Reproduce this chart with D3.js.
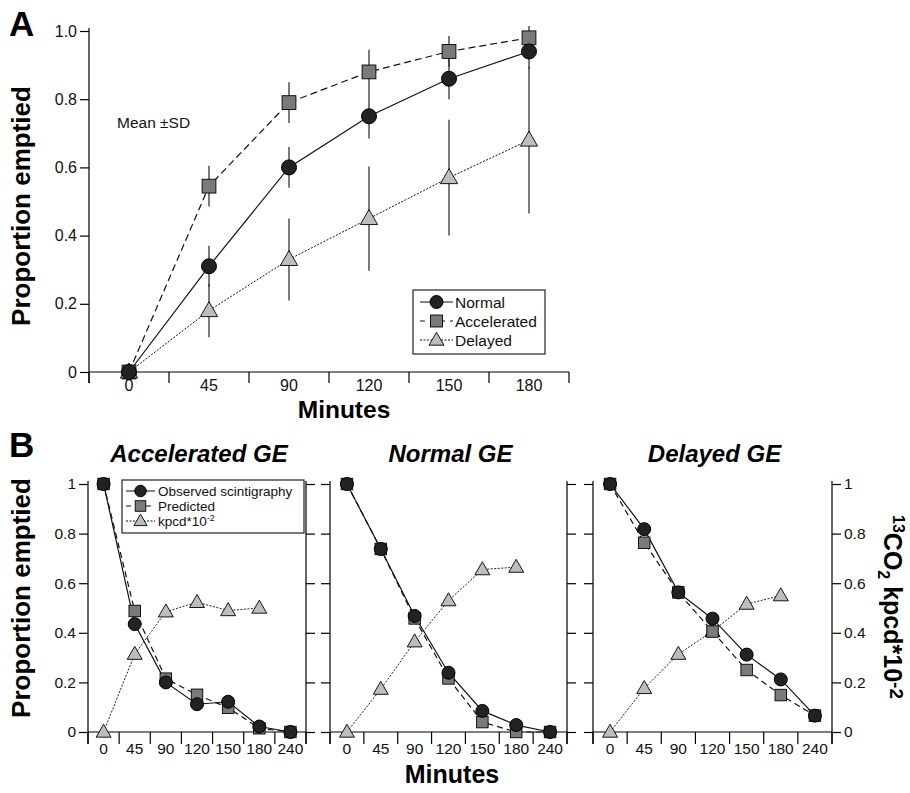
<!DOCTYPE html>
<html>
<head>
<meta charset="utf-8">
<script src="https://cdn.jsdelivr.net/npm/d3@7"></script>
<style>
  body { margin: 0; background: #fff; }
  svg { font-family: "Liberation Sans", Arial, Helvetica, sans-serif; }
</style>
</head>
<body>
<div id="chart"></div>
<script>
// ---- panel A data (mean +- SD, proportion emptied) ----
const aMinutes = ['0', '45', '90', '120', '150', '180']
const aNormal = [0, 0.31, 0.60, 0.75, 0.86, 0.94]
const aNormalSD = [0, 0.06, 0.06, 0.065, 0.06, 0.05]
const aAccelerated = [0, 0.545, 0.79, 0.88, 0.94, 0.98]
const aAcceleratedSD = [0, 0.06, 0.06, 0.065, 0.045, 0.035]
const aDelayed = [0, 0.18, 0.33, 0.45, 0.57, 0.68]
const aDelayedSD = [0, 0.078, 0.12, 0.153, 0.17, 0.215]
const aYTicks = [0, 0.2, 0.4, 0.6, 0.8, 1.0]
const aYLabels = ['0', '0.2', '0.4', '0.6', '0.8', '1.0']

// ---- panel B data ----
const bMinutes = ['0', '45', '90', '120', '150', '180', '240']
const bTitles = ['Accelerated GE', 'Normal GE', 'Delayed GE']
const accObserved = [1, 0.435, 0.20, 0.112, 0.122, 0.022, 0]
const accPredicted = [1, 0.488, 0.215, 0.15, 0.098, 0.015, 0]
const accKpcd = [0, 0.314, 0.485, 0.523, 0.49, 0.50]
const normObserved = [1, 0.738, 0.468, 0.239, 0.085, 0.028, 0]
const normPredicted = [1, 0.738, 0.458, 0.216, 0.04, 0.0, 0]
const normKpcd = [0, 0.173, 0.364, 0.53, 0.655, 0.665]
const delObserved = [1, 0.818, 0.563, 0.457, 0.312, 0.212, 0.066]
const delPredicted = [1, 0.763, 0.563, 0.405, 0.25, 0.149, 0.066]
const delKpcd = [0, 0.176, 0.314, 0.406, 0.516, 0.55]
const bYTicks = [0, 0.2, 0.4, 0.6, 0.8, 1]
const bYLabels = ['0', '0.2', '0.4', '0.6', '0.8', '1']

const width = 910
const height = 793

const svg = d3.select('#chart')
    .append('svg')
    .attr('width', width)
    .attr('height', height)

// marker styles
const styles = {
    circle: { fill: '#222' },
    square: { fill: '#7a7a7a' },
    triangle: { fill: '#bdbdbd' }
}

const drawMarker = (g, type, x, y, size) => {
    if (type === 'circle') {
        g.append('circle').attr('cx', x).attr('cy', y).attr('r', size / 2)
            .attr('fill', styles.circle.fill).attr('stroke', '#000').attr('stroke-width', 1)
    } else if (type === 'square') {
        const s = size * 0.92
        g.append('rect').attr('x', x - s / 2).attr('y', y - s / 2).attr('width', s).attr('height', s)
            .attr('fill', styles.square.fill).attr('stroke', '#000').attr('stroke-width', 0.9)
    } else {
        const s = size * 1.15
        const h = s * 0.87
        g.append('path')
            .attr('d', `M${x},${y - h * 0.6}L${x + s / 2},${y + h * 0.4}L${x - s / 2},${y + h * 0.4}Z`)
            .attr('fill', styles.triangle.fill).attr('stroke', '#000').attr('stroke-width', 0.9)
    }
}

const dashes = { solid: null, dashed: '7,4', dotted: '2,1.5' }

// band x-axis with ticks on the band boundaries
const drawBandAxis = (g, xScale, y0, fontSize, tickLen, labelOffset) => {
    const [r0, r1] = xScale.range()
    g.append('line').attr('x1', r0).attr('x2', r1).attr('y1', y0).attr('y2', y0)
        .attr('stroke', '#000').attr('stroke-width', 1.2)
    const bounds = xScale.domain().map(d => xScale(d)).concat([r1])
    g.selectAll('.btick').data(bounds).enter().append('line')
        .attr('x1', d => d).attr('x2', d => d)
        .attr('y1', y0).attr('y2', y0 + tickLen)
        .attr('stroke', '#000').attr('stroke-width', 1.2)
    const xAxis = d3.axisBottom(xScale).tickSize(0).tickPadding(0)
    const ax = g.append('g').attr('transform', `translate(0,${y0})`).call(xAxis)
    ax.select('.domain').remove()
    ax.selectAll('text')
        .attr('font-size', fontSize).attr('font-family', null)
        .attr('dy', null).attr('y', labelOffset)
        .attr('fill', '#111')
}

// vertical axis: side = -1 ticks left, +1 ticks right
const drawYAxis = (g, yScale, x0, side, ticks, labels, fontSize, showLabels, yBottom) => {
    g.append('line').attr('x1', x0).attr('x2', x0)
        .attr('y1', yScale.range()[1] - 3).attr('y2', yBottom)
        .attr('stroke', '#000').attr('stroke-width', 1.2)
    const axis = (side < 0 ? d3.axisLeft(yScale) : d3.axisRight(yScale))
        .tickValues(ticks)
        .tickSize(9)
        .tickSizeOuter(0)
        .tickPadding(3)
        .tickFormat((d, i) => labels[i])
    const ax = g.append('g').attr('transform', `translate(${x0},0)`).call(axis)
    ax.select('.domain').remove()
    ax.selectAll('line').attr('stroke-width', 1.2)
    ax.selectAll('text')
        .attr('font-size', fontSize).attr('font-family', null).attr('fill', '#111')
        .style('display', showLabels ? null : 'none')
}

// ================= PANEL A =================
const plotPanelA = () => {
    const g = svg.append('g')

    const xScale = d3.scaleBand().domain(aMinutes).range([89, 569])
    const yScale = d3.scaleLinear().domain([0, 1]).range([372, 31])
    const cx = d => xScale(d) + xScale.bandwidth() / 2

    drawBandAxis(g, xScale, 372, 16, 11, 19)
    drawYAxis(g, yScale, 89, -1, aYTicks, aYLabels, 16, true, 383)

    const series = [
        { name: 'Accelerated', values: aAccelerated, sd: aAcceleratedSD, marker: 'square', dash: 'dashed' },
        { name: 'Delayed', values: aDelayed, sd: aDelayedSD, marker: 'triangle', dash: 'dotted' },
        { name: 'Normal', values: aNormal, sd: aNormalSD, marker: 'circle', dash: 'solid' }
    ]

    // error bars
    series.forEach(s => {
        g.selectAll(null).data(s.values).enter().append('line')
            .attr('x1', (d, i) => cx(aMinutes[i]))
            .attr('x2', (d, i) => cx(aMinutes[i]))
            .attr('y1', (d, i) => yScale(d + s.sd[i]))
            .attr('y2', (d, i) => yScale(d - s.sd[i]))
            .attr('stroke', '#222').attr('stroke-width', 1.2)
    })

    const line = d3.line().x((d, i) => cx(aMinutes[i])).y(d => yScale(d))
    series.forEach(s => {
        g.append('path').datum(s.values).attr('d', line)
            .attr('fill', 'none').attr('stroke', '#111')
            .attr('stroke-width', s.dash === 'dotted' ? 1 : 1.2)
            .attr('stroke-dasharray', dashes[s.dash])
    })
    series.forEach(s => {
        s.values.forEach((d, i) => drawMarker(g, s.marker, cx(aMinutes[i]), yScale(d), 15))
    })

    // legend
    const lg = g.append('g')
    lg.append('rect').attr('x', 413).attr('y', 290).attr('width', 132).attr('height', 64)
        .attr('fill', '#fff').attr('stroke', '#222').attr('stroke-width', 1.2)
    const legendItems = [
        { label: 'Normal', marker: 'circle', dash: 'solid' },
        { label: 'Accelerated', marker: 'square', dash: 'dashed' },
        { label: 'Delayed', marker: 'triangle', dash: 'dotted' }
    ]
    legendItems.forEach((d, i) => {
        const y = 302 + i * 19
        lg.append('line').attr('x1', 420).attr('x2', 453).attr('y1', y).attr('y2', y)
            .attr('stroke', '#111').attr('stroke-width', 1)
            .attr('stroke-dasharray', d.dash === 'dashed' ? '5,5' : dashes[d.dash])
        drawMarker(lg, d.marker, 436.5, y, 13)
        lg.append('text').attr('x', 455).attr('y', y + 5.5).attr('font-size', 15.5)
            .attr('fill', '#111').text(d.label)
    })

    g.append('text').attr('x', 117).attr('y', 128).attr('font-size', 15.5).attr('fill', '#111').text('Mean ±SD')

    g.append('text').attr('x', 9).attr('y', 36).attr('font-size', 35).attr('font-weight', 'bold').text('A')
    g.append('text').attr('x', 344).attr('y', 418).attr('text-anchor', 'middle')
        .attr('font-size', 24.5).attr('font-weight', 'bold').text('Minutes')
    g.append('text').attr('transform', 'translate(30,206) rotate(-90)').attr('text-anchor', 'middle')
        .attr('font-size', 26).attr('font-weight', 'bold').text('Proportion emptied')
}

// ================= PANEL B =================
const plotPanelB = () => {
    const g = svg.append('g')
    const yScale = d3.scaleLinear().domain([0, 1]).range([732, 484])
    const panels = [
        { title: bTitles[0], range: [88, 306], obs: accObserved, pred: accPredicted, kpcd: accKpcd },
        { title: bTitles[1], range: [330, 567], obs: normObserved, pred: normPredicted, kpcd: normKpcd },
        { title: bTitles[2], range: [593, 832], obs: delObserved, pred: delPredicted, kpcd: delKpcd }
    ]

    panels.forEach((p, pi) => {
        const pg = g.append('g')
        const xScale = d3.scaleBand().domain(bMinutes).range(p.range)
        const cx = d => xScale(d) + xScale.bandwidth() / 2

        drawBandAxis(pg, xScale, 732, 15.5, 12, 22)
        drawYAxis(pg, yScale, p.range[0], -1, bYTicks, bYLabels, 15.5, pi === 0, 744)
        drawYAxis(pg, yScale, p.range[1], 1, bYTicks, bYLabels, 15.5, pi === 2, 744)

        const line = d3.line().x((d, i) => cx(bMinutes[i])).y(d => yScale(d))
        pg.append('path').datum(p.kpcd).attr('d', line).attr('fill', 'none')
            .attr('stroke', '#222').attr('stroke-width', 1).attr('stroke-dasharray', dashes.dotted)
        pg.append('path').datum(p.pred).attr('d', line).attr('fill', 'none')
            .attr('stroke', '#111').attr('stroke-width', 1.2).attr('stroke-dasharray', '6,4')
        pg.append('path').datum(p.obs).attr('d', line).attr('fill', 'none')
            .attr('stroke', '#111').attr('stroke-width', 1.2)

        p.kpcd.forEach((d, i) => drawMarker(pg, 'triangle', cx(bMinutes[i]), yScale(d), 13))
        p.pred.forEach((d, i) => drawMarker(pg, 'square', cx(bMinutes[i]), yScale(d), 12.5))
        p.obs.forEach((d, i) => drawMarker(pg, 'circle', cx(bMinutes[i]), yScale(d), 13))

        pg.append('text').attr('x', (p.range[0] + p.range[1]) / 2 + 2).attr('y', 462)
            .attr('text-anchor', 'middle').attr('font-size', 24)
            .attr('font-weight', 'bold').attr('font-style', 'italic').text(p.title)
    })

    // legend
    const lg = g.append('g')
    lg.append('rect').attr('x', 122).attr('y', 480).attr('width', 182).attr('height', 53)
        .attr('fill', '#fff').attr('stroke', '#222').attr('stroke-width', 1.2)
    const legendItems = [
        { label: 'Observed scintigraphy', marker: 'circle', dash: null },
        { label: 'Predicted', marker: 'square', dash: '5,5' },
        { label: 'kpcd*10', sup: '-2', marker: 'triangle', dash: dashes.dotted }
    ]
    legendItems.forEach((d, i) => {
        const y = 491 + i * 15
        lg.append('line').attr('x1', 126).attr('x2', 155).attr('y1', y).attr('y2', y)
            .attr('stroke', '#111').attr('stroke-width', 1).attr('stroke-dasharray', d.dash)
        drawMarker(lg, d.marker, 140.5, y, 11.5)
        const t = lg.append('text').attr('x', 158).attr('y', y + 5).attr('font-size', 13.5)
            .attr('fill', '#111').text(d.label)
        if (d.sup) t.append('tspan').attr('dy', -5).attr('font-size', 9).text(d.sup)
    })

    g.append('text').attr('x', 9).attr('y', 457).attr('font-size', 35).attr('font-weight', 'bold').text('B')
    g.append('text').attr('x', 452).attr('y', 783).attr('text-anchor', 'middle')
        .attr('font-size', 25).attr('font-weight', 'bold').text('Minutes')
    g.append('text').attr('transform', 'translate(30,598) rotate(-90)').attr('text-anchor', 'middle')
        .attr('font-size', 26).attr('font-weight', 'bold').text('Proportion emptied')

    // right axis title
    const rt = g.append('text').attr('transform', 'translate(884,607) rotate(90)')
        .attr('text-anchor', 'middle').attr('font-size', 25).attr('font-weight', 'bold')
    rt.append('tspan').attr('font-size', 16).attr('dy', -9).text('13')
    rt.append('tspan').attr('dy', 9).text('CO')
    rt.append('tspan').attr('font-size', 16).attr('dy', 6).text('2')
    rt.append('tspan').attr('dy', -6).text(' kpcd*10')
    rt.append('tspan').attr('font-size', 19).attr('dy', -6).text('-2')
}

plotPanelA()
plotPanelB()
</script>
</body>
</html>
